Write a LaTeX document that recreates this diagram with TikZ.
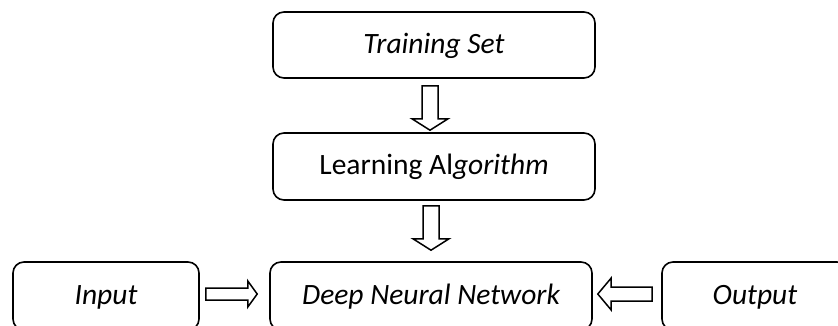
\documentclass[tikz,border=0pt]{standalone}
\usepackage{fontspec}
\setmainfont{Carlito}
\usetikzlibrary{calc}
\begin{document}
\begin{tikzpicture}[x=1pt,y=-1pt,
  box/.style={draw, line width=1.6pt, rounded corners=11pt, inner sep=0pt,
    text height=20pt, text depth=4pt, font=\fontsize{29.5}{34}\selectfont},
  blockarrow/.style={draw, line width=1.5pt, fill=white, line join=miter}]
  \clip (0,0) rectangle (838,325);
  \fill[white] (0,0) rectangle (838,325);

  % boxes
  \node[box, minimum width=322pt, minimum height=66pt] (ts) at (434,45) {\itshape Training Set};
  \node[box, minimum width=322pt, minimum height=67pt] (la) at (434,166.5) {Learning Al\textit{gorithm}};
  \node[box, minimum width=322pt, minimum height=68pt] (dnn) at (431,296) {\itshape Deep Neural Network\hspace{26pt}};
  \node[box, minimum width=186pt, minimum height=68pt] (in) at (106,296) {\itshape Input};
  \node[box, minimum width=186pt, minimum height=68pt] (out) at (755,296) {\itshape Output};

  % block arrow: training set -> learning algorithm
  \draw[blockarrow]
    ($(ts.south)+(-12,7)$) -- ($(ts.south)+(4,7)$) -- ($(ts.south)+(4,40)$)
    -- ($(ts.south)+(14,40)$) -- ($(la.north)+(-4,-2)$) -- ($(ts.south)+(-22,40)$)
    -- ($(ts.south)+(-12,40)$) -- cycle;

  % block arrow: learning algorithm -> network
  \draw[blockarrow]
    ($(la.south)+(-11,5)$) -- ($(la.south)+(5,5)$) -- ($(la.south)+(5,38)$)
    -- ($(la.south)+(15,38)$) -- ($(dnn.north)+(0,-11)$) -- ($(la.south)+(-21,38)$)
    -- ($(la.south)+(-11,38)$) -- cycle;

  % block arrow: input -> network
  \draw[blockarrow]
    ($(in.east)+(6,-8)$) -- ($(in.east)+(48,-8)$) -- ($(in.east)+(48,-15)$)
    -- ($(dnn.west)+(-12,-2)$) -- ($(in.east)+(48,11)$) -- ($(in.east)+(48,4)$)
    -- ($(in.east)+(6,4)$) -- cycle;

  % block arrow: output -> network
  \draw[blockarrow]
    ($(out.west)+(-9,-9)$) -- ($(out.west)+(-50,-9)$) -- ($(out.west)+(-50,-18)$)
    -- ($(dnn.east)+(5,-2)$) -- ($(out.west)+(-50,14)$) -- ($(out.west)+(-50,5)$)
    -- ($(out.west)+(-9,5)$) -- cycle;
\end{tikzpicture}
\end{document}
